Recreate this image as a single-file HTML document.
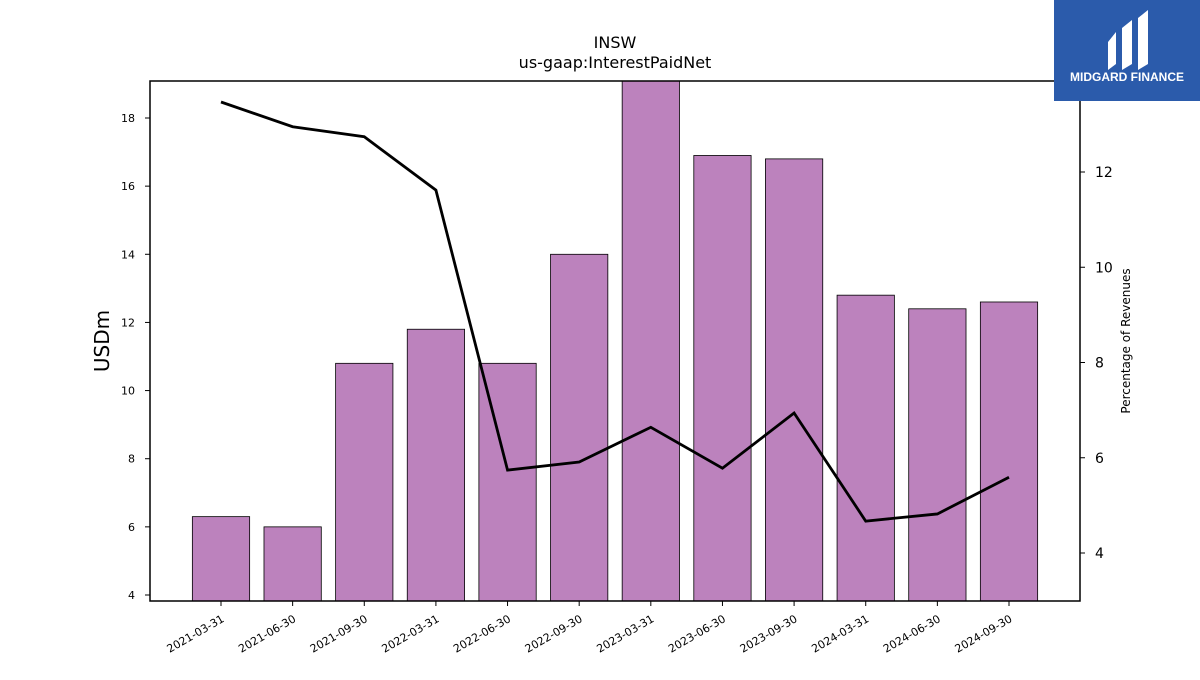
<!DOCTYPE html>
<html><head><meta charset="utf-8"><style>
body{margin:0;background:#fff;font-family:"Liberation Sans","DejaVu Sans",sans-serif}
svg text{font-family:"DejaVu Sans","Liberation Sans",sans-serif}
</style></head><body>
<svg id="c" width="1200" height="675" xmlns="http://www.w3.org/2000/svg">
<rect x="0" y="0" width="1200" height="675" fill="#fff"/>
<text x="615" y="48" text-anchor="middle" font-size="16">INSW</text>
<text x="615" y="68" text-anchor="middle" font-size="16">us-gaap:InterestPaidNet</text>
<g id="bars"></g>
<g id="line"></g>
<g id="axes"></g>
<rect x="150" y="81" width="930" height="520" fill="none" stroke="#000" stroke-width="1.5"/>
<text transform="translate(109,341) rotate(-90)" text-anchor="middle" font-size="20">USDm</text>
<text transform="translate(1130,341) rotate(-90)" text-anchor="middle" font-size="12">Percentage of Revenues</text>
<g>
<rect x="1054" y="0" width="146" height="101" fill="#2b5bab"/>
<path d="M1108 42 L1116 32 L1116 64 L1108 70 Z" fill="#fff"/>
<path d="M1122 28 L1132 20 L1132 64 L1122 70 Z" fill="#fff"/>
<path d="M1138 18 L1148 10 L1148 64 L1138 70 Z" fill="#fff"/>
<text x="1127" y="81" text-anchor="middle" font-size="12" font-weight="bold" fill="#fff" style="font-family:'Liberation Sans',sans-serif">MIDGARD FINANCE</text>
</g>
</svg>
<script>
const categories=["2021-03-31","2021-06-30","2021-09-30","2022-03-31","2022-06-30","2022-09-30","2023-03-31","2023-06-30","2023-09-30","2024-03-31","2024-06-30","2024-09-30"];
const barValues=[6.3,6.0,10.8,11.8,10.8,14.0,19.1,16.9,16.8,12.8,12.4,12.6];
const pctValues=[13.47,12.95,12.74,11.62,5.74,5.91,6.64,5.78,6.94,4.67,4.82,5.59];
const leftTicks=[4,6,8,10,12,14,16,18];
const rightTicks=[4,6,8,10,12];
const NS="http://www.w3.org/2000/svg";
const L=150,R=1080,T=81,B=601;
const yL=v=>595-(v-4)*(477/14);
const yR=v=>553-(v-4)*(381/8);
const step=(1009-221)/11;
const x=i=>221+i*step;
const bw=step*0.8;
function mk(t,a,p){const e=document.createElementNS(NS,t);for(const k in a)e.setAttribute(k,a[k]);p.appendChild(e);return e;}
const gb=document.getElementById('bars'),gl=document.getElementById('line'),ga=document.getElementById('axes');
barValues.forEach((v,i)=>{
 const top=Math.max(T,yL(v));
 const r=mk('rect',{x:x(i)-bw/2,y:top,width:bw,height:B-top,fill:'#bc82bd',stroke:'#000','stroke-width':0.8},gb);
 
 
});
const pl=mk('polyline',{points:pctValues.map((v,i)=>x(i)+','+yR(v)).join(' '),fill:'none',stroke:'#000','stroke-width':2.8},gl);


leftTicks.forEach(v=>{
 mk('line',{x1:L-5,x2:L,y1:yL(v),y2:yL(v),stroke:'#000'},ga);
 const t=mk('text',{x:L-15,y:yL(v)+4,'text-anchor':'end','font-size':11},ga);t.textContent=v;
 
 
});
rightTicks.forEach(v=>{
 mk('line',{x1:R,x2:R+5,y1:yR(v),y2:yR(v),stroke:'#000'},ga);
 const t=mk('text',{x:R+15,y:yR(v)+5,'font-size':14},ga);t.textContent=v;
 
 
});
categories.forEach((c,i)=>{
 mk('line',{x1:x(i),x2:x(i),y1:B,y2:B+5,stroke:'#000'},ga);
 const t=mk('text',{transform:`translate(${x(i)+4},${B+20}) rotate(-30)`,'text-anchor':'end','font-size':11},ga);t.textContent=c;
 
 
});
</script>
</body></html>
